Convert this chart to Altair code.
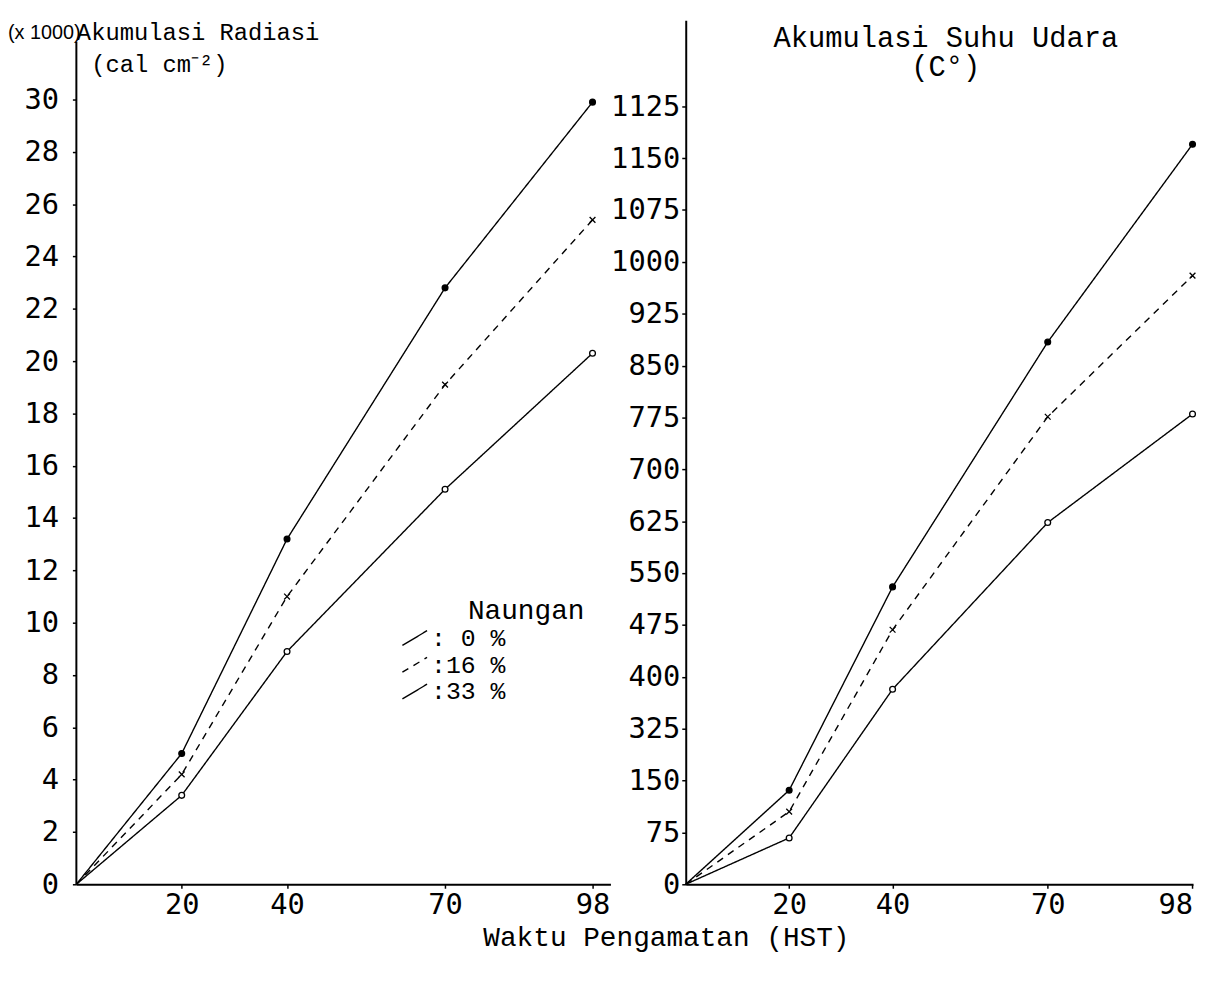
import json
import altair as alt
import pandas as pd

# ---------------- data ----------------
hst = [0, 20, 40, 70, 98]
naungan = ["0", "16", "33"]

radiasi_0 = [0, 5.0, 13.2, 22.8, 29.9]
radiasi_16 = [0, 4.2, 11.0, 19.1, 25.4]
radiasi_33 = [0, 3.4, 8.9, 15.1, 20.3]

suhu_0 = [0, 136, 430, 784, 1070]
suhu_16 = [0, 105, 368, 676, 880]
suhu_33 = [0, 67, 282, 523, 680]

x_ticks = [20, 40, 70, 98]
radiasi_ticks = [0, 2, 4, 6, 8, 10, 12, 14, 16, 18, 20, 22, 24, 26, 28, 30]
suhu_tick_values = [0, 75, 150, 225, 300, 375, 450, 525, 600, 675, 750, 825, 900, 975, 1050, 1125]
suhu_tick_labels = ["0", "75", "150", "325", "400", "475", "550", "625", "700",
                    "775", "850", "925", "1000", "1075", "1150", "1125"]


def long_table(series):
    rows = []
    for key, vals in zip(naungan, series):
        for h, v in zip(hst, vals):
            rows.append({"hst": h, "val": v, "naungan": key})
    return pd.DataFrame(rows)


df_rad = long_table([radiasi_0, radiasi_16, radiasi_33])
df_suhu = long_table([suhu_0, suhu_16, suhu_33])

TYPE_FONT = "Liberation Mono"
TICK_FONT = "DejaVu Sans Mono"
X_SHAPE = "M-1,-1L1,1M-1,1L1,-1"
MARKERS = {  # naungan -> (shape, fill)
    "0": ("circle", "black"),
    "16": (X_SHAPE, "black"),
    "33": ("circle", "white"),
}

H = 872
LEFT_RAD_MAX = H / 26.4
RIGHT_SUHU_MAX = H / 0.698


def axis_common(**kw):
    base = dict(grid=False, domainColor="black", domainWidth=2, tickColor="black",
                tickWidth=1.5, tickSize=4, labelFont=TICK_FONT, labelFontSize=29,
                labelColor="black", titleFont=TYPE_FONT, titleFontWeight="normal",
                titleColor="black")
    base.update(kw)
    return alt.Axis(**base)


def panel(df, xdom, width, ydom, xaxis, yaxis, legend, extra=()):
    base = alt.Chart(df).encode(
        x=alt.X("hst:Q", scale=alt.Scale(domain=xdom, nice=False, zero=True), axis=xaxis),
        y=alt.Y("val:Q", scale=alt.Scale(domain=ydom, nice=False, zero=True), axis=yaxis),
    )
    line = base.mark_line(color="black", strokeWidth=1.4).encode(
        strokeDash=alt.StrokeDash(
            "naungan:N",
            scale=alt.Scale(domain=naungan, range=[[1, 0], [7, 6], [1, 0]]),
            legend=legend,
        )
    )
    layers = [line]
    for key in naungan:
        shape, fill = MARKERS[key]
        layers.append(
            base.transform_filter(f"datum.hst > 0 && datum.naungan == '{key}'").mark_point(
                shape=shape, filled=True, fill=fill, stroke="black",
                strokeWidth=1.3, size=34, opacity=1,
            )
        )
    return alt.layer(*layers, *extra).properties(width=width, height=H)


left_x = axis_common(values=x_ticks, labelPadding=2,
                     title="Waktu Pengamatan (HST)", titleFontSize=28,
                     titleX=595, titleY=54, titleAlign="center", titleBaseline="middle",
                     titleAnchor="start")
left_y = axis_common(values=radiasi_ticks, labelPadding=14, domain=False,
                     title=["Akumulasi Radiasi", "\u200b\u00a0(cal cm\u207b\u00b2)"],
                     titleAngle=0, titleAlign="left", titleBaseline="top",
                     titleX=0, titleY=0, titleFontSize=24, titleLineHeight=33,
                     titleAnchor="start")
right_x = axis_common(values=x_ticks, labelPadding=2, title=None)
right_y = axis_common(values=suhu_tick_values, labelPadding=2,
                      labelExpr=f"{json.dumps(suhu_tick_labels)}[indexof({json.dumps(suhu_tick_values)}, datum.value)]",
                      title=["Akumulasi Suhu Udara", "(C\u00b0)"],
                      titleAngle=0, titleAlign="center", titleBaseline="top",
                      titleX=262, titleY=3, titleFontSize=29, titleLineHeight=30,
                      titleAnchor="start")

legend = alt.Legend(
    title="\u200b\u00a0\u00a0\u00a0\u00a0Naungan", orient="none", legendX=328, legendY=582,
    labelExpr="':' + (length(datum.label) < 2 ? ' ' : '') + datum.label + ' %'",
    titleFont=TYPE_FONT, titleFontSize=28, titleFontWeight="normal", titleColor="black",
    titleLimit=400, labelLimit=300,
    labelFont=TYPE_FONT, labelFontSize=25, labelColor="black",
    symbolType="M-1,0.6L1,-0.6", symbolSize=620, symbolStrokeWidth=1.4,
    symbolStrokeColor="black", symbolFillColor="transparent",
    rowPadding=0, titlePadding=0, labelOffset=3,
)

# left axis line starts below the title, as in the scan
left_axis_line = alt.Chart(pd.DataFrame({"x0": [0]})).mark_rule(
    color="black", strokeWidth=2
).encode(x=alt.datum(0), y=alt.datum(0), y2=alt.datum(32.2))

x1000 = alt.Chart(pd.DataFrame({"t": ["(x 1000)"]})).mark_text(
    font="Liberation Sans", fontSize=20, align="left", baseline="middle", color="black"
).encode(x=alt.value(-69), y=alt.value(13), text="t:N")

left = panel(df_rad, [0, 101.4], 539, [0, LEFT_RAD_MAX], left_x, left_y, legend,
             extra=(left_axis_line, x1000))
right = panel(df_suhu, [0, 98.1], 512, [0, RIGHT_SUHU_MAX], right_x, right_y, None)

chart = alt.hconcat(left, right, spacing=76, bounds="flush").resolve_scale(
    strokeDash="independent"
).properties(
    padding={"left": 0, "top": 8, "right": 0, "bottom": 0},
    background="white",
).configure_view(stroke=None)

chart.save("out.html", embed_options={"renderer": "svg", "actions": False})
